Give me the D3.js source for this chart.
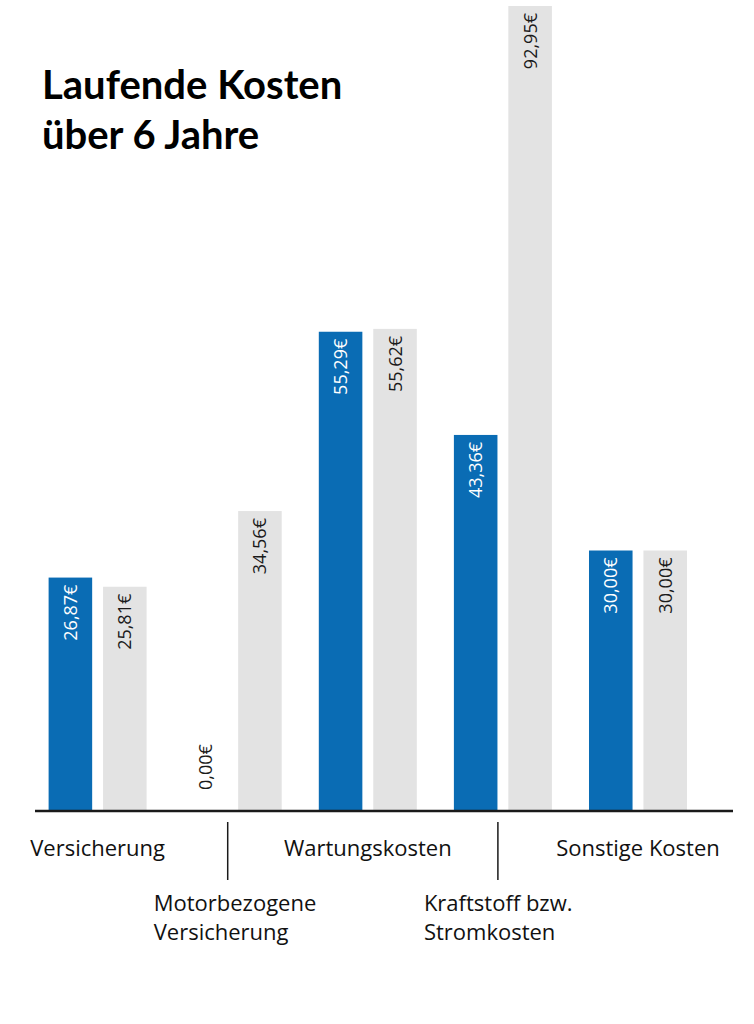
<!DOCTYPE html>
<html><head><meta charset="utf-8">
<script src="https://cdn.jsdelivr.net/npm/d3@7"></script>
<style>
html,body{margin:0;padding:0;background:#fff;}
svg{display:block;font-family:"Open Sans", Lato, sans-serif;}
</style></head>
<body>
<svg id="chart" width="754" height="1024"></svg>
<script>
const titleLines = ["Laufende Kosten", "über 6 Jahre"];
const categories = ["Versicherung", "Motorbezogene Versicherung", "Wartungskosten", "Kraftstoff bzw. Stromkosten", "Sonstige Kosten"];
const categoryLabelLines = [["Versicherung"], ["Motorbezogene", "Versicherung"], ["Wartungskosten"], ["Kraftstoff bzw.", "Stromkosten"], ["Sonstige Kosten"]];
const labelRow = [0, 1, 0, 1, 0];
const seriesNames = ["A", "B"];
const seriesA = [26.87, 0.00, 55.29, 43.36, 30.00];
const seriesB = [25.81, 34.56, 55.62, 92.95, 30.00];
const colors = ["#0a6cb4", "#e3e3e3"];
const labelColors = ["#ffffff", "#1a1a1a"];

const svg = d3.select("#chart");
const baseY = 810;

const data = categories.map((c, i) => ({cat: c, values: [seriesA[i], seriesB[i]]}));

const x0 = d3.scaleBand().domain(categories).range([35.1, 700.5]).paddingInner(0.2746).paddingOuter(0.1);
const x1 = d3.scaleBand().domain(seriesNames).range([0, x0.bandwidth()]).paddingInner(0.2);
const y = d3.scaleLinear().domain([0, d3.max(seriesB.concat(seriesA))]).range([baseY, 6]);

const fmt = v => d3.format(".2f")(v).replace(".", ",") + "€";

// title
svg.append("text").attr("x", 42).attr("y", 99).attr("font-family", "Lato, 'Open Sans', sans-serif")
  .attr("font-weight", 700).attr("font-size", 40).attr("fill", "#000")
  .selectAll("tspan").data(titleLines).join("tspan").attr("x", 42).attr("dy", (d, i) => i ? 50 : 0).text(d => d);

const g = svg.selectAll("g.cat").data(data).join("g").attr("class", "cat")
  .attr("transform", d => `translate(${x0(d.cat)},0)`);

const items = g.selectAll("g.bar").data(d => d.values.map((v, j) => ({v, s: seriesNames[j], j}))).join("g").attr("class", "bar");

items.append("rect")
  .attr("x", d => x1(d.s))
  .attr("width", x1.bandwidth())
  .attr("y", d => y(d.v))
  .attr("height", d => baseY - y(d.v))
  .attr("fill", d => colors[d.j]);

items.append("text")
  .attr("transform", d => {
    const cx = x1(d.s) + x1.bandwidth() / 2;
    const ty = d.v > 0 ? y(d.v) + 7 : y(0) - 20;
    return `translate(${cx},${ty}) rotate(-90)`;
  })
  .attr("dy", "0.36em")
  .attr("text-anchor", d => d.v > 0 ? "end" : "start")
  .attr("font-size", 18)
  .attr("fill", d => d.v > 0 ? labelColors[d.j] : "#1a1a1a")
  .text(d => fmt(d.v));

// baseline
svg.append("line").attr("x1", 35).attr("x2", 733).attr("y1", baseY + 1).attr("y2", baseY + 1)
  .attr("stroke", "#1a1a1a").attr("stroke-width", 2.6);

// category labels
categories.forEach((c, i) => {
  const cx = x0(c) + x0.bandwidth() / 2;
  if (labelRow[i] === 0) {
    svg.append("text").attr("x", cx).attr("y", 856).attr("text-anchor", "middle")
      .attr("font-size", 22).attr("fill", "#111").text(categoryLabelLines[i][0]);
  } else {
    svg.append("line").attr("x1", cx - 5).attr("x2", cx - 5).attr("y1", 822).attr("y2", 880)
      .attr("stroke", "#1a1a1a").attr("stroke-width", 1.5);
    svg.append("text").attr("font-size", 22).attr("fill", "#111")
      .selectAll("tspan").data(categoryLabelLines[i]).join("tspan")
      .attr("x", cx - 79).attr("y", (d, k) => 911 + k * 29).text(d => d);
  }
});
</script>
</body></html>
